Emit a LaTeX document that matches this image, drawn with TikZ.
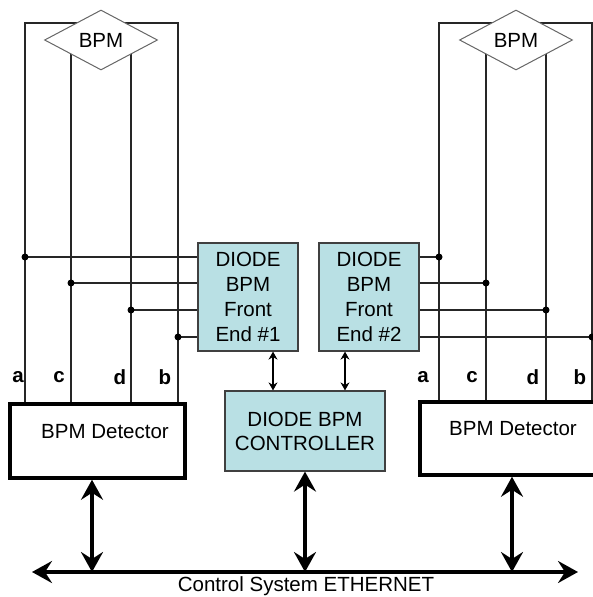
\documentclass[tikz,border=0pt]{standalone}
\usepackage{fontspec}
\setmainfont{Liberation Sans}
\usetikzlibrary{shapes.geometric,arrows.meta}
\definecolor{fefill}{RGB}{185,224,228}
\tikzset{wire/.style={line width=1.2pt, color=black!85}}
\tikzset{tap_dot/.style={circle, fill=black, inner sep=0pt, minimum size=7pt}}
\tikzset{bpm_diamond/.style={diamond, draw=black!60, fill=white, line width=1pt, inner sep=0pt, minimum width=113pt, minimum height=60pt}}
\tikzset{fe_box/.style={draw=black!75, fill=fefill, line width=1.2pt, align=center, inner sep=0pt}}
\tikzset{det_box/.style={draw=black, fill=white, line width=3.5pt, inner sep=0pt}}
\tikzset{link_arrow/.style={line width=2pt, {Stealth[length=8pt,width=9pt]}-{Stealth[length=8pt,width=9pt]}}}
\tikzset{bus_arrow/.style={line width=4pt, {Stealth[length=20pt,width=22pt,inset=7pt]}-{Stealth[length=20pt,width=22pt,inset=7pt]}}}

\begin{document}
\begin{tikzpicture}[x=1pt,y=-1pt,font=\fontsize{20.5}{25}\selectfont]
  \useasboundingbox (0,0) rectangle (593,597);
  % front ends and controller
  \node[fe_box,minimum width=100pt,minimum height=108pt] (fe1) at (248,297) {DIODE\\BPM\\Front\\End \#1};
  \node[fe_box,minimum width=100pt,minimum height=108pt] (fe2) at (369,297) {DIODE\\BPM\\Front\\End \#2};
  \node[fe_box,minimum width=160pt,minimum height=80pt,font=\fontsize{20.5}{24}\selectfont] (ctrl) at (305,431) {DIODE BPM\\CONTROLLER};
  % detectors
  \node[det_box,minimum width=175pt,minimum height=74pt] (detL) at (97.5,441) {};
  \node[det_box,minimum width=186pt,minimum height=73pt] (detR) at (513,438.5) {};
  \node (detLtxt) at (105,432) {BPM Detector};
  \node (detRtxt) at (513,429) {BPM Detector};
  % pickup wires a, c, d, b
  \foreach \s/\xa/\xc/\xd/\xb/\xm in {L/25/71/131/178/101, R/439/486/546/592/516}{
    \coordinate (a\s) at (\xa,23);
    \coordinate (c\s) at (\xc,40);
    \coordinate (d\s) at (\xd,40);
    \coordinate (b\s) at (\xb,23);
    \draw[wire] (det\s.north -| a\s) |- (b\s) -- (det\s.north -| b\s);
    \draw[wire] (c\s) -- (det\s.north -| c\s);
    \draw[wire] (d\s) -- (det\s.north -| d\s);
    \node[bpm_diamond] (bpm\s) at (\xm,40) {BPM};
  }
  % taps to the front ends
  \foreach \w/\y in {a/257,c/283,d/310,b/337}{
    \coordinate (t\w) at (0,\y);
    \draw[wire] (\w L |- t\w) node[tap_dot] (tap\w L) {} -- (fe1.west |- t\w);
    \draw[wire] (fe2.east |- t\w) -- (\w R |- t\w) node[tap_dot] (tap\w R) {};
  }
  % wire labels
  \foreach \w/\x in {a/18,c/59,d/120,b/165}{
    \node[font=\fontsize{20.5}{25}\bfseries] (lbl\w L) at (\x,377) {\w};
  }
  \foreach \w/\x in {a/423,c/472,d/533,b/580}{
    \node[font=\fontsize{20.5}{25}\bfseries] (lbl\w R) at (\x,377) {\w};
  }
  % links
  \draw[link_arrow] ([xshift=25pt]fe1.south) -- ([xshift=25pt]fe1.south |- ctrl.north);
  \draw[link_arrow] ([xshift=-24pt]fe2.south) -- ([xshift=-24pt]fe2.south |- ctrl.north);
  % ethernet
  \coordinate (busL) at (32,572);
  \coordinate (busR) at (578,572);
  \draw[bus_arrow] (busL) -- (busR);
  \draw[bus_arrow] ([xshift=-5.5pt]detL.south) -- ([xshift=-5.5pt]detL.south |- busL);
  \draw[bus_arrow] (ctrl.south) -- (ctrl.south |- busL);
  \draw[bus_arrow] ([xshift=-1pt]detR.south) -- ([xshift=-1pt]detR.south |- busL);
  \node (bustxt) at (306,586) {Control System ETHERNET};
\end{tikzpicture}
\end{document}
